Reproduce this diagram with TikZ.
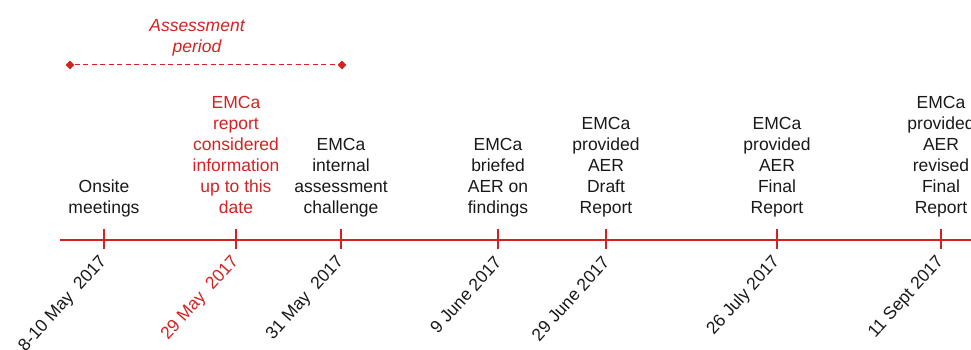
\documentclass[tikz,border=0pt]{standalone}
\usepackage{fontspec}
\setmainfont{Liberation Sans}
\usetikzlibrary{shapes.geometric}
\definecolor{TimelineRed}{RGB}{212,34,34}
\definecolor{LabelBlack}{RGB}{25,25,25}

\begin{document}
\begin{tikzpicture}[x=1pt, y=-1pt, font=\fontsize{17.5}{21}\selectfont,
	enddot/.style={diamond, fill=TimelineRed, inner sep=0pt, minimum size=9pt},
	axisline/.style={draw=TimelineRed, line width=1.2pt}]
	\useasboundingbox (0,0) rectangle (971,350);

	% assessment period bracket
	\node[enddot] (pstart) at (70,65) {};
	\node[enddot] (pend) at (342,65) {};
	\draw[draw=TimelineRed, line width=1pt, dash pattern=on 5pt off 3.5pt] (pstart) -- (pend);
	\node[align=center, text=TimelineRed, font=\itshape\fontsize{17.5}{21}\selectfont] (period) at (197,38) {Assessment\\period};

	% time axis
	\coordinate (axstart) at (60,240);
	\coordinate (axend) at (980,240);
	\draw[axisline] (axstart) -- (axend);

	% milestones: x / name / event / date / colour
	\foreach \x/\name/\desc/\date/\col in {
		104/onsite/{Onsite\\meetings}/{8-10 May\ \ 2017}/LabelBlack,
		236/cutoff/{EMCa\\report\\considered\\information\\up to this\\date}/{29 May\ \ 2017}/TimelineRed,
		341/challenge/{EMCa\\internal\\assessment\\challenge}/{31 May\ \ 2017}/LabelBlack,
		498/briefing/{EMCa\\briefed\\AER on\\findings}/{9 June 2017}/LabelBlack,
		606/draft/{EMCa\\provided\\AER\\Draft\\Report}/{29 June 2017}/LabelBlack,
		777/final/{EMCa\\provided\\AER\\Final\\Report}/{26 July 2017}/LabelBlack,
		941/revised/{EMCa\\provided\\AER\\revised\\Final\\Report}/{11 Sept 2017}/LabelBlack}{
		\draw[axisline] (\x,229) -- (\x,249);
		\node[anchor=south, align=center, text=\col, inner sep=2pt] (ev\name) at (\x,222) {\desc\strut};
		\node[anchor=east, rotate=48, text=\col, inner sep=0pt] (dt\name) at (\x,259) {\date};
	}
\end{tikzpicture}
\end{document}
